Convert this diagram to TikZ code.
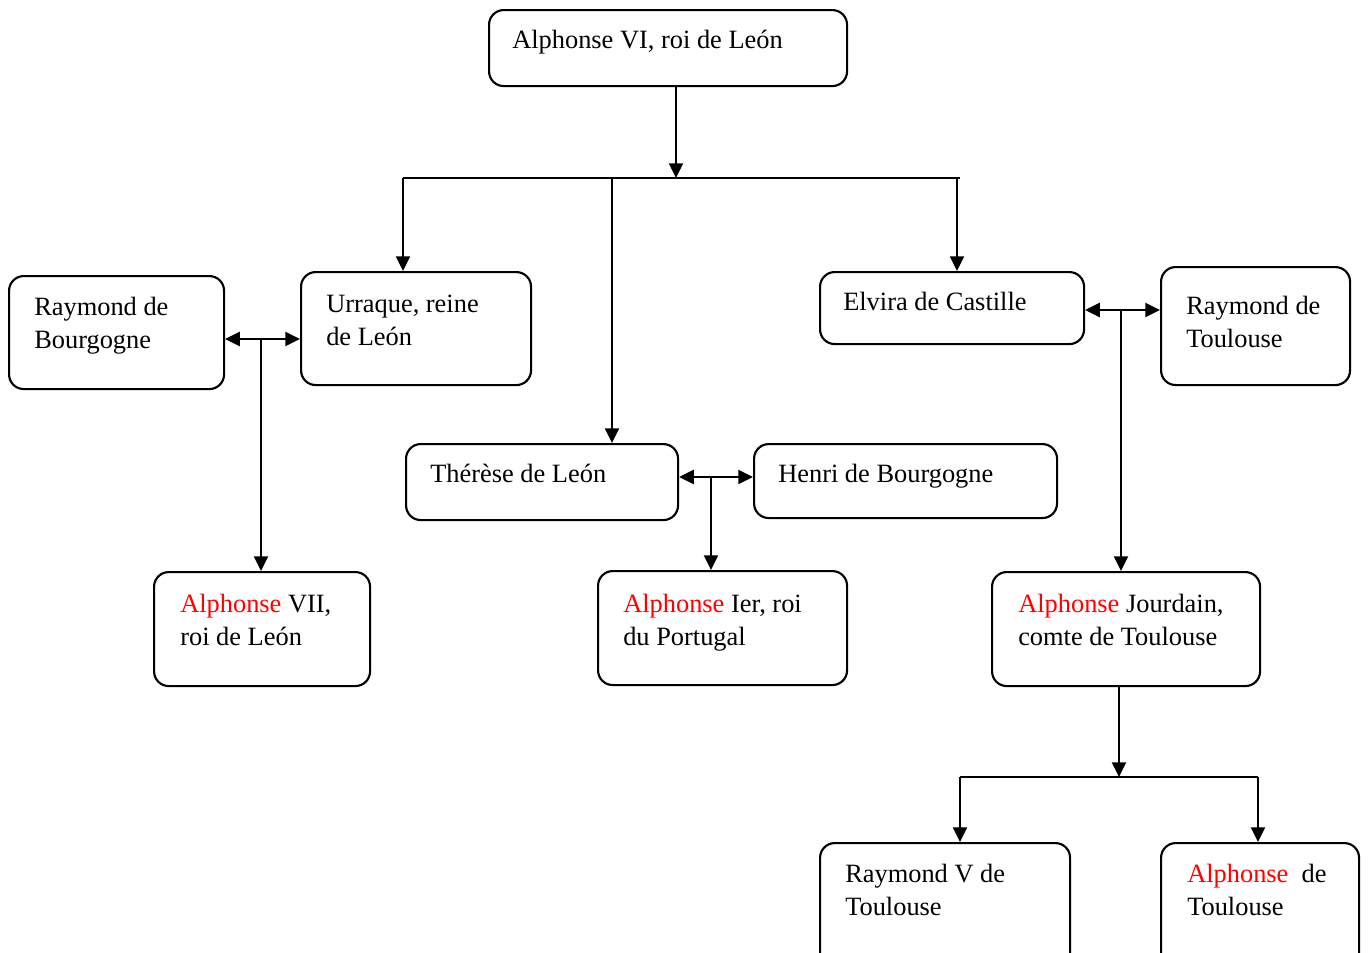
\documentclass[tikz,border=0pt]{standalone}
\usepackage{fontspec}
\setmainfont{Liberation Serif}
\usetikzlibrary{arrows.meta,calc}
\definecolor{ared}{RGB}{255,0,0}
\begin{document}
\begin{tikzpicture}[x=0.75pt,y=-0.75pt,
  box/.style n args={2}{draw, line width=1.6pt, rounded corners=11pt, inner sep=0pt,
     minimum width=#1*0.75pt, minimum height=#2*0.75pt, anchor=north west},
  txt/.style={anchor=base west, align=left, inner sep=0pt,
     font=\fontsize{19.8pt}{24.75pt}\selectfont},
  ln/.style={line width=1.7pt},
  arr/.style={line width=1.7pt, -{Triangle[length=11pt,width=10.5pt]}}]
\clip (0,0) rectangle (1368,953);
\useasboundingbox (0,0) rectangle (1368,953);
% boxes
\node[box={358}{76}] (a6) at (488,9) {};
\node[box={215}{113}] (rb) at (8,275) {};
\node[box={230}{113}] (u) at (300,271) {};
\node[box={264}{72}] (e) at (819,271) {};
\node[box={189}{118}] (rt) at (1160,266) {};
\node[box={272}{76}] (t) at (405,443) {};
\node[box={303}{74}] (h) at (753,443) {};
\node[box={216}{114}] (a7) at (153,571) {};
\node[box={249}{114}] (a1) at (597,570) {};
\node[box={268}{114}] (aj) at (991,571) {};
\node[box={250}{140}] (r5) at (819,842) {};
\node[box={198}{140}] (at) at (1160,842) {};
% texts (base anchor of a two-line node is its second line)
\node[txt] (a6t) at ($(a6.north west)+(24,39)$) {Alphonse VI, roi de León};
\node[txt] (rbt) at ($(rb.north west)+(26,73)$) {Raymond de\\Bourgogne};
\node[txt] (ut) at ($(u.north west)+(26,74)$) {Urraque, reine\\de León};
\node[txt] (et) at ($(e.north west)+(24,39)$) {Elvira de Castille};
\node[txt] (rtt) at ($(rt.north west)+(26,81)$) {Raymond de\\Toulouse};
\node[txt] (tt) at ($(t.north west)+(25,39)$) {Thérèse de León};
\node[txt] (ht) at ($(h.north west)+(25,39)$) {Henri de Bourgogne};
\node[txt] (a7t) at ($(a7.north west)+(27,74)$) {\textcolor{ared}{Alphonse} VII,\\roi de León};
\node[txt] (a1t) at ($(a1.north west)+(26,75)$) {\textcolor{ared}{Alphonse} Ier, roi\\du Portugal};
\node[txt] (ajt) at ($(aj.north west)+(27,74)$) {\textcolor{ared}{Alphonse} Jourdain,\\comte de Toulouse};
\node[txt] (r5t) at ($(r5.north west)+(26,73)$) {Raymond V de\\Toulouse};
\node[txt] (att) at ($(at.north west)+(27,73)$) {\textcolor{ared}{Alphonse}\ \ de\\Toulouse};
% top bar
\coordinate (b1l) at (403,178);
\coordinate (b1m) at (612,178);
\coordinate (b1e) at (957,178);
\coordinate (b1r) at (960,178);
\coordinate (b1c) at (676,178);
\draw[ln] (b1l) -- (b1r);
\draw[arr] (a6.south -| b1c) -- (b1c);
\draw[arr] (b1l) -- (b1l |- u.north);
\draw[arr] (b1m) -- (b1m |- t.north);
\draw[arr] (b1e) -- (b1e |- e.north);
% couples
\coordinate (m1) at (261,339);
\draw[arr] (m1) -- (rb.east |- m1);
\draw[arr] (m1) -- (u.west |- m1);
\draw[arr] (m1) -- (m1 |- a7.north);
\coordinate (m2) at (711,477);
\draw[arr] (m2) -- (t.east |- m2);
\draw[arr] (m2) -- (h.west |- m2);
\draw[arr] (m2) -- (m2 |- a1.north);
\coordinate (m3) at (1121,310);
\draw[arr] (m3) -- (e.east |- m3);
\draw[arr] (m3) -- (rt.west |- m3);
\draw[arr] (m3) -- (m3 |- aj.north);
% bottom bar
\coordinate (b2l) at (960,777);
\coordinate (b2m) at (1119,777);
\coordinate (b2r) at (1258,777);
\draw[ln] (b2l) -- (b2r);
\draw[arr] (aj.south -| b2m) -- (b2m);
\draw[arr] (b2l) -- (b2l |- r5.north);
\draw[arr] (b2r) -- (b2r |- at.north);
\end{tikzpicture}
\end{document}
